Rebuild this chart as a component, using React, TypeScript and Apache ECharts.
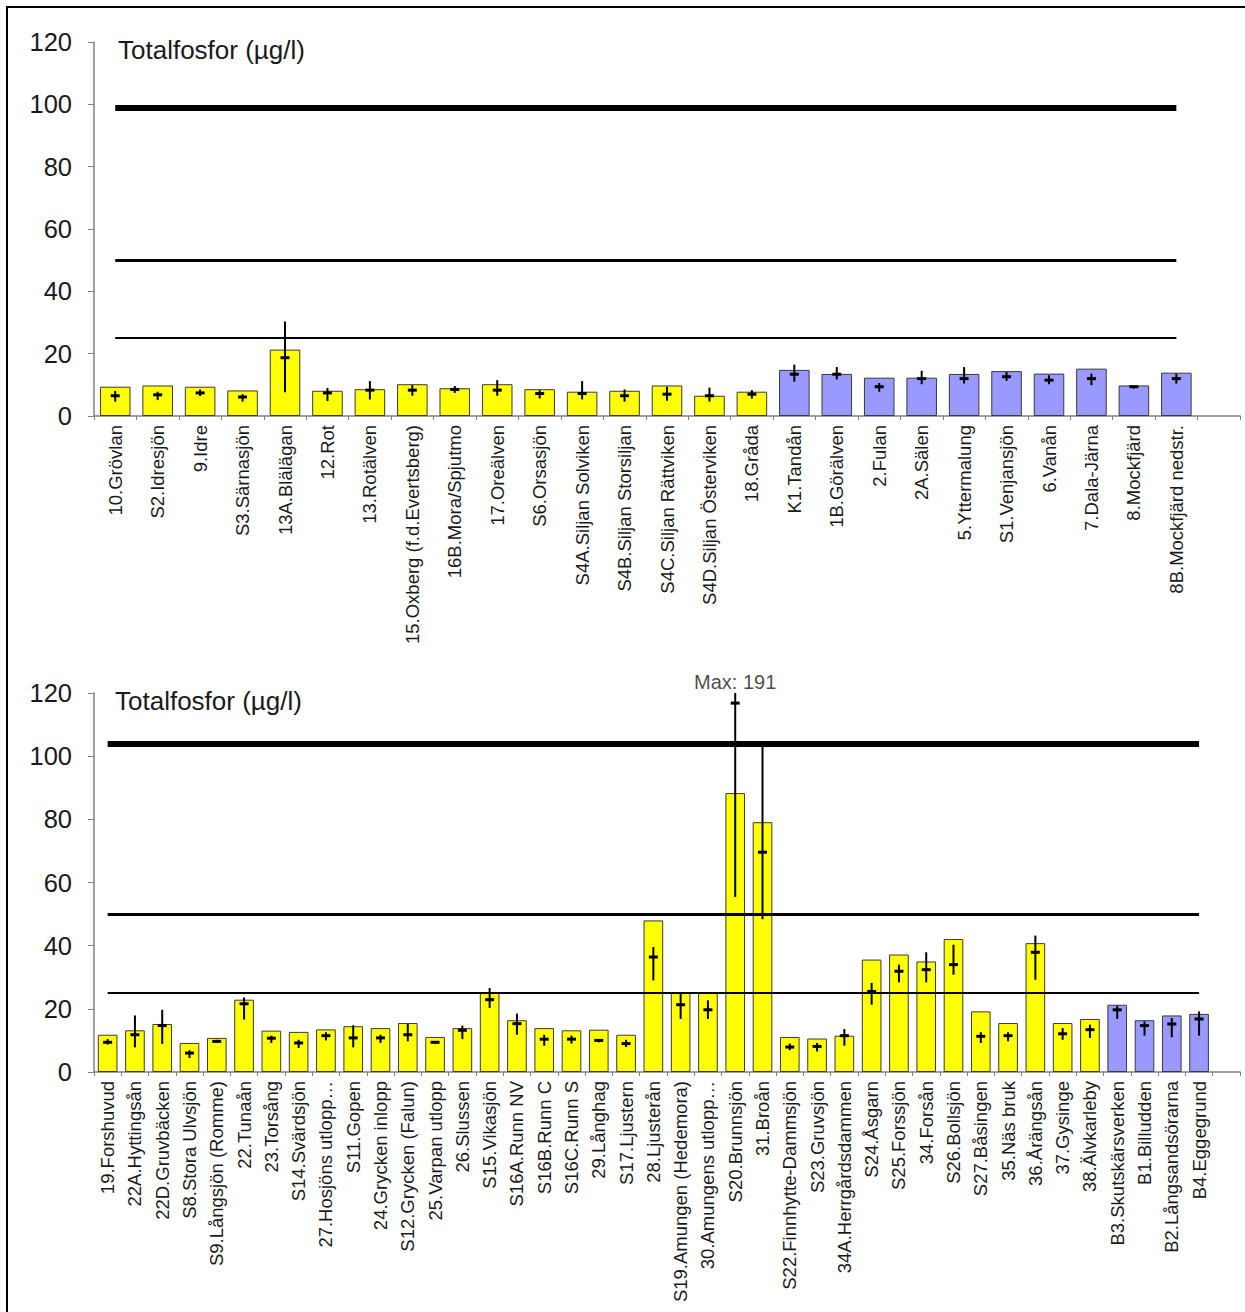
import React, { useEffect, useRef } from 'react';
import * as echarts from 'echarts';

// ---------- data ----------
const chartTitle = 'Totalfosfor (µg/l)';

const topCategories = [
  '10.Grövlan', 'S2.Idresjön', '9.Idre', 'S3.Särnasjön', '13A.Blälägan', '12.Rot', '13.Rotälven',
  '15.Oxberg (f.d.Evertsberg)', '16B.Mora/Spjutmo', '17.Oreälven', 'S6.Orsasjön', 'S4A.Siljan Solviken',
  'S4B.Siljan Storsiljan', 'S4C.Siljan Rättviken', 'S4D.Siljan Österviken', '18.Gråda', 'K1.Tandån',
  '1B.Görälven', '2.Fulan', '2A.Sälen', '5.Yttermalung', 'S1.Venjansjön', '6.Vanån', '7.Dala-Järna',
  '8.Mockfjärd', '8B.Mockfjärd nedstr.',
];
const topBars = [9.4, 9.8, 9.4, 8.2, 21.3, 8.1, 8.6, 10.2, 8.9, 10.2, 8.6, 7.8, 8.1, 9.8, 6.5, 7.8, 14.8, 13.5, 12.3, 12.3, 13.5, 14.4, 13.6, 15.2, 9.8, 13.9];
const topMid = [6.5, 6.8, 7.4, 6.1, 18.7, 7.4, 8.3, 8.3, 8.5, 8.3, 7.2, 7.2, 6.5, 7.0, 6.5, 7.0, 13.4, 13.4, 9.4, 12.0, 12.0, 12.6, 11.5, 12.0, 9.4, 12.0];
const topLow = [4.6, 5.1, 6.4, 4.6, 7.6, 4.8, 5.3, 6.5, 7.4, 6.5, 5.6, 5.3, 4.6, 4.9, 4.6, 5.6, 11.0, 11.7, 7.8, 10.2, 10.4, 11.3, 10.2, 9.9, 8.8, 10.4];
const topHigh = [8.0, 7.8, 8.5, 7.0, 30.3, 9.0, 11.2, 9.9, 9.6, 11.5, 8.3, 11.2, 8.5, 9.4, 9.1, 8.3, 16.5, 15.7, 10.6, 14.5, 15.7, 14.1, 13.1, 13.6, 9.6, 13.6];
const topFirstBlue = 16;
const topRefLines = [99, 50, 25];

const bottomCategories = [
  '19.Forshuvud', '22A.Hyttingsån', '22D.Gruvbäcken', 'S8.Stora Ulvsjön', 'S9.Långsjön (Romme)', '22.Tunaån',
  '23.Torsång', 'S14.Svärdsjön', '27.Hosjöns utlopp…', 'S11.Gopen', '24.Grycken inlopp', 'S12.Grycken (Falun)',
  '25.Varpan utlopp', '26.Slussen', 'S15.Vikasjön', 'S16A.Runn NV', 'S16B.Runn C', 'S16C.Runn S', '29.Långhag',
  'S17.Ljustern', '28.Ljusterån', 'S19.Amungen (Hedemora)', '30.Amungens utlopp…', 'S20.Brunnsjön', '31.Broån',
  'S22.Finnhytte-Dammsjön', 'S23.Gruvsjön', '34A.Herrgårdsdammen', 'S24.Åsgarn', 'S25.Forssjön', '34.Forsån',
  'S26.Bollsjön', 'S27.Båsingen', '35.Näs bruk', '36.Årängsån', '37.Gysinge', '38.Älvkarleby',
  'B3.Skutskärsverken', 'B1.Billudden', 'B2.Långsandsörarna', 'B4.Eggegrund',
];
const bottomBars = [11.8, 13.2, 15.2, 9.2, 10.8, 22.9, 13.1, 12.7, 13.5, 14.5, 13.9, 15.5, 11.1, 13.9, 25.2, 16.4, 13.9, 13.2, 13.4, 11.8, 48.0, 25.0, 25.0, 88.3, 79.1, 11.1, 10.6, 11.5, 35.6, 37.2, 35.0, 42.1, 19.2, 15.5, 40.8, 15.5, 16.8, 21.3, 16.4, 17.9, 18.4];
const bottomMid = [9.4, 11.8, 14.7, 6.0, 9.7, 21.6, 10.7, 9.2, 11.5, 10.8, 10.8, 11.8, 9.4, 13.2, 22.9, 15.3, 10.4, 10.4, 10.0, 9.0, 36.4, 21.3, 19.7, 116.8, 69.6, 7.9, 8.1, 11.5, 25.5, 31.9, 32.4, 34.0, 11.3, 11.5, 37.9, 12.1, 13.4, 19.7, 14.7, 15.2, 16.8];
const bottomLow = [8.7, 7.8, 8.9, 4.4, 9.2, 16.6, 9.2, 7.6, 10.0, 7.8, 9.2, 9.7, 9.0, 10.4, 20.3, 11.8, 8.3, 9.0, 9.4, 7.9, 29.0, 16.8, 16.8, 55.4, 48.4, 6.9, 6.5, 8.3, 21.3, 28.4, 28.4, 30.8, 9.2, 9.7, 29.2, 10.2, 10.8, 16.8, 11.5, 11.0, 11.5];
const bottomHigh = [10.4, 17.9, 19.7, 6.9, 10.2, 23.6, 11.5, 10.2, 12.6, 14.8, 11.8, 15.2, 9.7, 14.7, 26.6, 18.5, 11.8, 11.5, 10.4, 10.2, 39.6, 24.7, 22.7, 191, 103, 9.0, 9.2, 13.6, 28.2, 34.0, 37.9, 40.3, 12.6, 12.6, 43.2, 13.9, 15.0, 21.0, 16.0, 17.1, 19.2];
const bottomFirstBlue = 37;
const bottomRefLines = [104, 50, 25];

const yMin = 0;
const yMax = 120;
const yInterval = 20;

// ---------- styles ----------
const FONT = '"Liberation Sans", Arial, sans-serif';
const YELLOW = '#FFFF00';
const BLUE = '#9999FF';
const AXIS_GRAY = '#808080';
const TEXT = '#1a1a1a';
const refWidths = [6, 3, 2];

function errorRender(params: any, api: any) {
  const idx = api.value(0);
  const low = Math.max(api.value(1), yMin);
  const high = Math.min(api.value(2), yMax);
  const mid = Math.min(api.value(3), yMax);
  const pLow = api.coord([idx, low]);
  const pHigh = api.coord([idx, high]);
  const pMid = api.coord([idx, mid]);
  const half = 4.5;
  return {
    type: 'group',
    children: [
      { type: 'line', shape: { x1: pLow[0], y1: pLow[1], x2: pHigh[0], y2: pHigh[1] }, style: { stroke: '#000', lineWidth: 2 } },
      { type: 'line', shape: { x1: pMid[0] - half, y1: pMid[1], x2: pMid[0] + half, y2: pMid[1] }, style: { stroke: '#000', lineWidth: 3 } },
    ],
  };
}

function buildPanel(
  axisIndex: number,
  cats: string[],
  bars: number[],
  mid: number[],
  low: number[],
  high: number[],
  firstBlue: number,
  refs: number[],
) {
  const barData = bars.map((v, i) => ({ value: v, itemStyle: { color: i >= firstBlue ? BLUE : YELLOW } }));
  const errData = bars.map((_, i) => [i, low[i], high[i], mid[i]]);
  const last = cats[cats.length - 1];
  const markLineData = refs.map((r, k) => [
    { coord: [cats[0], r], lineStyle: { width: refWidths[k], color: '#000', type: 'solid' } },
    { coord: [last, r] },
  ]);
  const series: any[] = [
    {
      type: 'bar',
      xAxisIndex: axisIndex,
      yAxisIndex: axisIndex,
      data: barData,
      barCategoryGap: '28%',
      itemStyle: { borderColor: '#3a3a3a', borderWidth: 1 },
      markLine: {
        silent: true,
        symbol: 'none',
        label: { show: false },
        data: markLineData,
      },
    },
    {
      type: 'custom',
      xAxisIndex: axisIndex,
      yAxisIndex: axisIndex,
      renderItem: errorRender,
      encode: { x: 0, y: [1, 2, 3] },
      data: errData,
      z: 5,
    },
  ];
  const notes = high
    .map((h, i) => ({ h, i }))
    .filter((d) => d.h > yMax)
    .map((d) => ({ value: [cats[d.i], yMax], label: { formatter: `Max: ${d.h}` } }));
  if (notes.length) {
    series.push({
      type: 'scatter',
      xAxisIndex: axisIndex,
      yAxisIndex: axisIndex,
      symbolSize: 0,
      clip: false,
      data: notes,
      label: { show: true, position: 'top', distance: 1, fontSize: 20, color: TEXT, fontFamily: FONT },
      z: 6,
    });
  }
  return series;
}

function makeXAxis(gridIndex: number, cats: string[]) {
  return {
    type: 'category',
    gridIndex,
    data: [...cats, ''],
    axisLine: { show: true, lineStyle: { color: AXIS_GRAY, width: 1.5 } },
    axisTick: { show: true, length: 4, lineStyle: { color: AXIS_GRAY } },
    axisLabel: { interval: 0, rotate: 90, fontSize: 18.5, color: TEXT, fontFamily: FONT, margin: 9 },
    splitLine: { show: false },
  };
}

function makeYAxis(gridIndex: number) {
  return {
    type: 'value',
    gridIndex,
    min: yMin,
    max: yMax,
    interval: yInterval,
    axisLine: { show: true, lineStyle: { color: AXIS_GRAY, width: 1.5 } },
    axisTick: { show: true, length: 6, lineStyle: { color: AXIS_GRAY } },
    axisLabel: { fontSize: 25.5, color: TEXT, fontFamily: FONT, margin: 22 },
    splitLine: { show: false },
  };
}

export default function App() {
  const ref = useRef<HTMLDivElement>(null);
  useEffect(() => {
    document.body.style.margin = '0';
    if (!ref.current) return;
    const chart = echarts.init(ref.current, undefined, { renderer: 'svg' });
    const option: any = {
      animation: false,
      backgroundColor: '#fff',
      textStyle: { fontFamily: FONT },
      grid: [
        { left: 94, width: 1146, top: 42, height: 374 },
        { left: 94, width: 1146, top: 693, height: 379 },
      ],
      xAxis: [makeXAxis(0, topCategories), makeXAxis(1, bottomCategories)],
      yAxis: [makeYAxis(0), makeYAxis(1)],
      series: [
        ...buildPanel(0, topCategories, topBars, topMid, topLow, topHigh, topFirstBlue, topRefLines),
        ...buildPanel(1, bottomCategories, bottomBars, bottomMid, bottomLow, bottomHigh, bottomFirstBlue, bottomRefLines),
      ],
      graphic: [
        { type: 'line', shape: { x1: 7, y1: 6, x2: 7, y2: 1312 }, style: { stroke: '#000', lineWidth: 2 } },
        { type: 'line', shape: { x1: 6, y1: 7, x2: 1245, y2: 7 }, style: { stroke: '#000', lineWidth: 2 } },
        {
          type: 'text', left: 118, top: 37,
          style: { text: chartTitle, fontSize: 26, fill: TEXT, fontFamily: FONT },
        },
        {
          type: 'text', left: 115, top: 688,
          style: { text: chartTitle, fontSize: 26, fill: TEXT, fontFamily: FONT },
        },
      ],
    };
    chart.setOption(option);
    return () => chart.dispose();
  }, []);
  return <div ref={ref} style={{ width: 1245, height: 1312 }} />;
}
